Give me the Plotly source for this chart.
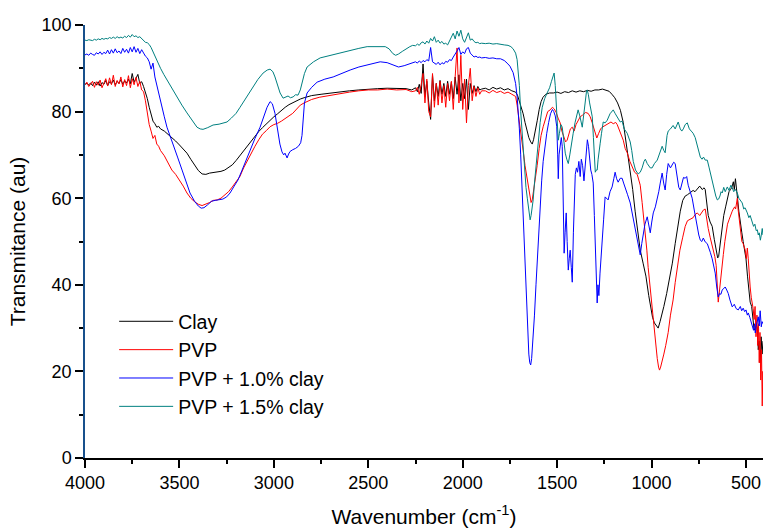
import plotly.graph_objects as go

# ---------------- data ----------------
SERIES_NAMES = ["Clay", "PVP", "PVP + 1.0% clay", "PVP + 1.5% clay"]
SERIES_COLORS = ["#000000", "#ff0000", "#0000ff", "#008080"]

# sampling grids of the noisy spectral windows (wavenumber, cm-1)
GRID_HIGH = list(range(4000, 3599, -10))   # 4000 ... 3600
GRID_CO = list(range(2250, 1899, -10))     # 2250 ... 1900

# ---- Clay ----
clay_high = [86.3, 86.5, 86.2, 86.6, 86.0, 86.8, 86.1, 86.9, 85.9, 86.7,
             86.3, 87.2, 86.0, 86.9, 86.4, 87.3, 86.2, 87.0, 86.5, 87.4,
             86.3, 87.1, 86.6, 87.5, 86.4, 88.8, 86.8, 87.6, 88.6, 86.5,
             86.9, 85.8, 84.5, 83.0, 81.0, 79.2, 77.8, 77.2, 76.4, 76.6, 76.0]
clay_mid = [(3580, 75.5), (3560, 74.8), (3540, 74.0), (3520, 73.2), (3500, 72.3), (3480, 71.3),
            (3460, 70.4), (3440, 69.0), (3420, 67.8), (3400, 66.4), (3380, 65.6), (3360, 65.5),
            (3340, 65.8), (3320, 65.9), (3300, 66.0), (3280, 66.2), (3260, 66.5), (3240, 67.0),
            (3220, 67.7), (3200, 68.7), (3180, 69.8), (3160, 71.0), (3140, 72.2), (3120, 73.3),
            (3100, 74.4), (3080, 75.4), (3060, 76.3), (3040, 77.2), (3020, 78.0), (3000, 78.8),
            (2980, 79.5), (2960, 80.3), (2940, 81.0), (2920, 81.6), (2900, 82.1), (2880, 82.5),
            (2860, 82.9), (2840, 83.2), (2800, 83.7), (2750, 84.0), (2700, 84.3), (2650, 84.6),
            (2600, 84.8), (2550, 85.0), (2500, 85.2), (2450, 85.3), (2400, 85.4), (2350, 85.3),
            (2300, 85.3), (2270, 85.0)]
clay_co = [85.5, 84.6, 86.3, 84.2, 91.0, 83.5, 87.0, 82.0, 78.2, 88.5,
           82.5, 86.5, 83.5, 87.2, 84.0, 86.5, 83.5, 87.0, 84.0, 86.8,
           83.0, 88.0, 84.0, 88.5, 82.5, 86.5, 83.0, 87.5, 80.5, 86.5,
           84.2, 86.0, 84.6, 85.8, 85.0, 85.2]
clay_low = [(1880, 85.4), (1860, 85.0), (1840, 85.6), (1820, 85.2), (1800, 85.5), (1780, 85.0),
            (1760, 85.3), (1740, 84.8), (1720, 84.5), (1710, 83.8), (1700, 82.5), (1690, 81.0),
            (1680, 79.5), (1670, 77.5), (1660, 75.5), (1650, 74.0), (1640, 73.0), (1632, 72.5),
            (1625, 73.5), (1615, 75.5), (1605, 78.0), (1595, 80.5), (1585, 82.3), (1575, 83.3),
            (1560, 84.0), (1540, 84.3), (1520, 84.3), (1500, 84.5), (1480, 84.2), (1460, 84.6),
            (1440, 84.4), (1420, 84.8), (1400, 84.5), (1380, 84.8), (1360, 84.6), (1340, 84.9),
            (1320, 84.7), (1300, 85.0), (1280, 85.0), (1260, 85.2), (1240, 85.0), (1225, 84.7),
            (1210, 84.0), (1195, 83.2), (1180, 82.0), (1165, 80.3), (1150, 77.5), (1140, 74.5),
            (1125, 70.5), (1113, 66.5), (1100, 62.0), (1087, 57.0), (1075, 52.5), (1060, 48.0),
            (1045, 45.0), (1030, 42.0), (1015, 37.5), (1005, 34.5), (995, 32.5), (985, 31.2),
            (975, 30.5), (965, 30.0), (955, 31.5), (945, 33.0), (935, 35.0), (920, 38.0),
            (905, 41.5), (890, 45.0), (875, 49.5), (860, 54.0), (848, 57.0), (835, 59.5),
            (822, 60.5), (810, 60.8), (795, 61.2), (780, 61.8), (770, 61.5), (758, 62.2),
            (745, 62.8), (732, 62.0), (722, 62.4), (716, 62.0), (708, 59.0), (700, 56.0),
            (690, 54.5), (679, 53.5), (668, 50.5), (658, 47.5), (650, 46.2), (645, 46.5),
            (638, 49.0), (628, 52.0), (618, 56.0), (608, 58.0), (598, 60.0), (590, 61.5),
            (582, 62.0), (575, 62.5), (567, 63.8), (562, 62.0), (556, 64.5), (551, 63.0),
            (545, 60.0), (538, 57.0), (530, 55.0), (522, 52.0), (515, 50.0), (508, 48.5),
            (500, 46.0), (492, 42.0), (485, 39.0), (478, 36.0), (470, 35.0), (464, 33.0),
            (458, 30.0), (452, 29.5), (446, 31.0), (440, 30.0), (435, 25.0), (430, 27.0),
            (425, 22.0), (420, 28.0), (415, 24.0), (410, 27.0)]

# ---- PVP ----
pvp_high = [86.2, 86.8, 85.8, 86.5, 87.0, 85.6, 86.9, 86.1, 87.3, 85.5,
            86.8, 87.6, 85.9, 87.8, 86.2, 88.4, 85.8, 87.2, 86.4, 88.0,
            85.7, 87.4, 86.0, 88.3, 85.5, 87.6, 86.2, 87.9, 85.8, 87.0,
            85.0, 84.6, 82.5, 79.5, 77.0, 75.5, 73.8, 74.5, 72.5, 72.0, 71.0]
pvp_mid = [(3580, 69.8), (3560, 68.0), (3540, 66.5), (3520, 65.5), (3500, 64.2), (3480, 62.8),
           (3460, 61.2), (3440, 60.0), (3420, 59.2), (3400, 58.6), (3380, 58.3), (3360, 58.6),
           (3340, 59.0), (3320, 59.5), (3300, 59.6), (3280, 60.0), (3260, 60.7), (3240, 61.5),
           (3220, 62.6), (3200, 63.8), (3180, 65.0), (3160, 67.0), (3140, 68.8), (3120, 70.5),
           (3100, 72.0), (3080, 73.5), (3060, 74.8), (3040, 75.6), (3020, 76.5), (3000, 77.0),
           (2980, 77.3), (2960, 77.8), (2940, 78.3), (2920, 79.0), (2900, 79.6), (2880, 80.6),
           (2860, 81.5), (2840, 82.0), (2800, 82.8), (2760, 83.3), (2700, 83.8), (2650, 84.2),
           (2600, 84.5), (2550, 84.8), (2500, 85.0), (2450, 85.0), (2400, 85.2), (2350, 85.0),
           (2300, 85.1), (2270, 84.6)]
pvp_co = [84.8, 85.6, 84.0, 86.2, 88.8, 82.0, 87.5, 80.0, 78.8, 88.8,
          81.0, 86.5, 81.5, 87.0, 82.0, 86.0, 81.0, 86.5, 82.5, 87.0,
          80.5, 88.0, 94.7, 82.0, 93.0, 80.5, 87.5, 77.4, 86.0, 90.0,
          82.5, 85.8, 83.5, 85.5, 84.0, 84.8]
pvp_low = [(1880, 84.8), (1860, 84.3), (1840, 84.9), (1820, 84.4), (1800, 84.7), (1780, 84.2),
           (1760, 84.5), (1740, 84.0), (1720, 83.5), (1712, 81.5), (1700, 78.0), (1690, 74.5),
           (1680, 71.0), (1670, 67.5), (1660, 64.5), (1653, 62.5), (1645, 60.5), (1638, 59.0),
           (1632, 59.6), (1625, 61.5), (1615, 64.5), (1606, 67.5), (1595, 71.5), (1585, 74.5),
           (1574, 76.5), (1560, 78.8), (1550, 80.0), (1537, 80.4), (1525, 81.0), (1515, 80.6),
           (1505, 79.8), (1495, 78.5), (1484, 77.4), (1475, 75.5), (1465, 74.0), (1455, 73.0),
           (1447, 73.4), (1440, 74.5), (1430, 76.0), (1420, 76.4), (1410, 75.5), (1400, 77.0),
           (1390, 78.0), (1378, 78.8), (1365, 79.2), (1350, 79.8), (1336, 79.6), (1325, 78.8),
           (1315, 77.5), (1305, 76.0), (1298, 75.0), (1290, 73.9), (1280, 75.0), (1270, 76.0),
           (1261, 76.4), (1246, 76.8), (1230, 77.4), (1215, 77.6), (1203, 77.2), (1190, 77.5),
           (1182, 77.0), (1170, 75.5), (1160, 74.5), (1150, 73.4), (1140, 71.5), (1129, 70.5),
           (1115, 68.5), (1100, 67.0), (1090, 66.0), (1076, 65.5), (1060, 63.0), (1050, 59.0),
           (1040, 55.0), (1033, 52.0), (1025, 48.0), (1018, 44.0), (1010, 40.5), (1000, 35.0),
           (992, 31.0), (985, 28.0), (978, 25.5), (970, 23.0), (963, 21.0), (958, 20.3),
           (952, 21.0), (945, 22.0), (935, 24.0), (925, 26.0), (912, 29.0), (900, 33.0),
           (886, 36.5), (875, 40.5), (864, 44.0), (850, 48.0), (835, 51.0), (822, 53.5),
           (810, 54.8), (795, 55.2), (780, 55.5), (770, 56.2), (758, 56.6), (745, 56.0),
           (735, 56.8), (725, 57.3), (716, 57.5), (708, 55.0), (700, 53.0), (690, 51.0),
           (682, 49.5), (674, 48.5), (665, 46.5), (658, 44.5), (652, 41.0), (647, 36.0),
           (642, 38.0), (635, 41.5), (628, 44.0), (620, 47.0), (612, 50.0), (605, 52.0),
           (598, 54.0), (590, 55.0), (580, 56.5), (573, 57.0), (567, 57.5), (560, 58.0),
           (555, 57.5), (550, 59.0), (546, 60.0), (542, 57.5), (536, 55.0), (530, 52.7),
           (522, 50.0), (515, 49.5), (508, 48.5), (504, 48.0), (498, 46.0), (493, 48.5),
           (488, 46.0), (483, 42.0), (478, 39.5), (472, 37.0), (467, 36.0), (462, 34.5),
           (457, 32.0), (452, 35.0), (447, 28.0), (442, 33.0), (438, 26.0), (434, 31.0),
           (430, 22.0), (426, 29.0), (422, 18.0), (418, 25.0), (414, 12.0), (411, 20.0),
           (408, 16.0)]

# ---- PVP + 1.0% clay ----
pvp10_high = [93.1, 93.3, 93.0, 93.5, 93.2, 93.0, 93.6, 93.3, 93.8, 93.2,
              93.7, 93.4, 94.2, 93.3, 94.3, 93.5, 94.5, 93.6, 94.0, 93.4,
              94.6, 93.7, 94.4, 93.5, 94.8, 93.8, 95.0, 93.7, 94.6, 93.4,
              94.3, 93.5, 92.8, 92.4, 91.5, 89.8, 91.2, 88.0, 86.0, 84.2, 82.0]
pvp10_mid = [(3580, 78.8), (3566, 76.4), (3550, 74.5), (3534, 72.7), (3510, 69.5), (3486, 66.5),
             (3465, 63.8), (3444, 61.2), (3420, 59.3), (3400, 58.2), (3385, 57.7), (3370, 57.8),
             (3350, 58.5), (3330, 59.3), (3310, 59.5), (3290, 59.6), (3270, 59.8), (3250, 60.3),
             (3232, 61.2), (3210, 62.8), (3190, 64.2), (3170, 66.3), (3150, 68.5), (3126, 71.1),
             (3100, 73.8), (3073, 76.4), (3055, 78.7), (3036, 81.0), (3020, 82.3), (3008, 81.8),
             (2994, 79.6), (2985, 77.3), (2978, 75.0), (2968, 72.5), (2957, 70.7), (2948, 70.0),
             (2941, 70.4), (2935, 69.8), (2930, 69.3), (2922, 70.2), (2914, 70.8), (2900, 71.2),
             (2885, 71.5), (2870, 72.0), (2858, 72.8), (2851, 74.5), (2845, 79.0), (2838, 82.0),
             (2824, 84.3), (2800, 85.6), (2771, 86.8), (2730, 87.5), (2686, 88.0), (2640, 88.9),
             (2596, 89.6), (2550, 90.3), (2506, 90.8), (2470, 91.2), (2437, 91.5), (2400, 91.3),
             (2370, 90.8), (2340, 90.3), (2310, 90.6), (2280, 91.0)]
pvp10_co = [91.5, 91.2, 91.7, 91.3, 91.8, 91.5, 92.0, 91.7, 94.8, 91.5,
            91.2, 90.9, 91.4, 90.8, 91.3, 91.0, 91.6, 91.4, 92.0, 91.8,
            92.6, 93.2, 94.0, 94.8, 93.2, 93.8, 93.4, 94.5, 94.8, 93.5,
            93.0, 92.6, 92.8, 92.5, 92.6, 92.4]
pvp10_low = [(1880, 92.5), (1860, 92.3), (1840, 92.4), (1820, 92.2), (1800, 92.2), (1780, 91.8),
             (1765, 91.2), (1750, 90.5), (1733, 89.0), (1720, 86.5), (1712, 83.5), (1706, 80.0),
             (1700, 76.0), (1693, 70.0), (1685, 61.0), (1678, 52.0), (1670, 43.0), (1663, 35.0),
             (1656, 28.5), (1650, 24.0), (1645, 22.0), (1640, 21.5), (1635, 23.0), (1628, 27.0),
             (1620, 33.0), (1612, 40.0), (1606, 45.0), (1598, 52.0), (1590, 58.5), (1582, 64.0),
             (1574, 68.5), (1565, 72.0), (1555, 75.0), (1545, 77.5), (1535, 79.5), (1525, 80.5),
             (1518, 80.0), (1510, 79.0), (1502, 76.5), (1497, 70.0), (1494, 64.5), (1490, 70.0),
             (1484, 73.0), (1478, 74.0), (1473, 72.0), (1468, 58.0), (1463, 47.3), (1458, 52.0),
             (1452, 56.6), (1447, 50.0), (1441, 43.4), (1436, 46.0), (1431, 48.0), (1425, 44.0),
             (1420, 40.6), (1414, 52.0), (1409, 60.0), (1404, 65.5), (1398, 67.0), (1392, 66.0),
             (1385, 68.5), (1378, 65.0), (1372, 69.0), (1365, 67.5), (1358, 64.0), (1352, 67.0),
             (1345, 71.0), (1340, 73.5), (1334, 72.0), (1328, 69.0), (1322, 66.5), (1316, 65.5),
             (1309, 63.5), (1303, 56.0), (1297, 46.0), (1292, 38.5), (1288, 35.8), (1284, 40.0),
             (1279, 37.5), (1273, 42.7), (1267, 47.5), (1262, 50.3), (1254, 55.0), (1246, 60.3),
             (1238, 59.8), (1230, 59.6), (1220, 61.5), (1209, 62.6), (1200, 64.5), (1193, 66.0),
             (1185, 64.5), (1177, 63.7), (1166, 64.6), (1156, 64.6), (1148, 63.5), (1140, 62.6),
             (1127, 60.8), (1113, 58.9), (1105, 57.0), (1097, 55.0), (1087, 52.5), (1076, 50.3),
             (1068, 48.5), (1060, 46.9), (1052, 49.5), (1044, 52.0), (1035, 54.0), (1023, 55.7),
             (1015, 54.0), (1007, 52.0), (999, 54.5), (991, 56.6), (980, 58.0), (970, 59.6),
             (962, 61.5), (954, 63.5), (944, 65.8), (936, 63.5), (928, 61.9), (920, 65.5),
             (912, 68.0), (900, 67.0), (891, 67.7), (883, 68.3), (875, 68.0), (865, 65.0),
             (856, 62.5), (848, 61.9), (840, 63.0), (831, 64.8), (822, 64.6), (814, 65.0),
             (806, 63.0), (795, 61.5), (785, 60.0), (775, 57.5), (765, 55.0), (758, 53.4),
             (750, 51.5), (742, 50.3), (734, 50.0), (726, 50.8), (716, 49.9), (705, 49.5),
             (695, 48.5), (689, 47.5), (679, 46.0), (670, 44.5), (663, 42.7), (655, 39.5),
             (647, 37.2), (640, 38.0), (633, 37.8), (626, 38.8), (618, 39.2), (610, 39.5),
             (602, 38.8), (594, 38.0), (585, 36.5), (573, 34.9), (562, 35.5), (552, 34.5),
             (541, 34.2), (530, 35.0), (523, 34.0), (515, 34.6), (507, 33.8), (500, 34.2),
             (493, 33.0), (488, 33.5), (480, 32.5), (473, 31.5), (467, 30.3), (460, 29.5),
             (455, 31.0), (451, 28.9), (446, 30.5), (441, 32.0), (435, 32.6), (430, 30.5),
             (425, 34.0), (419, 30.3), (415, 31.5), (410, 31.0)]

# ---- PVP + 1.5% clay ----
pvp15_high = [96.5, 96.4, 96.6, 96.5, 96.4, 96.7, 96.5, 96.8, 96.6, 96.9,
              96.7, 96.9, 96.8, 97.1, 96.9, 97.2, 96.9, 97.3, 97.0, 97.2,
              97.0, 97.4, 97.1, 97.6, 97.2, 97.8, 97.3, 97.5, 97.1, 97.3,
              96.8, 96.4, 96.0, 95.9, 95.5, 94.8, 93.8, 92.8, 91.8, 91.0, 90.0]
pvp15_mid = [(3583, 88.6), (3566, 87.3), (3540, 85.4), (3513, 83.4), (3487, 81.5), (3460, 79.7),
             (3433, 78.0), (3407, 76.4), (3390, 76.0), (3375, 75.9), (3350, 76.3), (3322, 76.9),
             (3290, 77.1), (3270, 77.3), (3248, 77.6), (3225, 78.5), (3200, 79.6), (3179, 81.0),
             (3155, 82.6), (3130, 84.2), (3110, 85.7), (3085, 87.4), (3057, 88.9), (3035, 89.6),
             (3020, 89.8), (3005, 89.2), (2994, 88.0), (2980, 86.2), (2967, 84.3), (2951, 83.1),
             (2938, 83.3), (2925, 83.6), (2912, 83.2), (2898, 83.4), (2885, 83.9), (2872, 83.8),
             (2860, 85.0), (2851, 86.6), (2838, 88.8), (2824, 90.3), (2790, 91.5), (2755, 92.4),
             (2720, 92.8), (2686, 93.1), (2640, 93.6), (2596, 94.2), (2550, 94.6), (2506, 95.0),
             (2470, 95.0), (2437, 95.0), (2410, 95.0), (2390, 94.5), (2370, 93.4), (2355, 93.0),
             (2340, 93.3), (2320, 93.9), (2300, 94.5), (2280, 95.0), (2265, 95.3)]
pvp15_co = [95.2, 95.6, 95.3, 95.9, 96.1, 95.6, 96.3, 95.8, 96.9, 96.3,
            97.3, 96.0, 96.5, 95.8, 96.2, 95.6, 95.8, 95.4, 96.5, 97.2,
            98.1, 96.8, 98.6, 97.4, 98.8, 96.8, 96.0, 97.0, 98.2, 96.5,
            96.8, 96.2, 95.9, 96.0, 95.7, 95.8]
pvp15_low = [(1880, 95.7), (1860, 95.8), (1840, 95.6), (1820, 95.7), (1800, 95.5), (1780, 95.4),
             (1760, 95.3), (1745, 95.0), (1733, 94.5), (1720, 93.5), (1712, 92.0), (1706, 89.5),
             (1700, 86.0), (1693, 80.0), (1685, 74.5), (1680, 71.0), (1672, 66.0), (1665, 62.5),
             (1658, 60.0), (1650, 57.0), (1643, 55.0), (1638, 56.0), (1632, 57.5), (1627, 59.6),
             (1620, 63.5), (1612, 67.5), (1606, 71.0), (1598, 74.5), (1590, 77.5), (1579, 81.0),
             (1566, 83.0), (1553, 84.3), (1540, 85.5), (1530, 87.0), (1522, 88.3), (1516, 88.9),
             (1510, 86.0), (1505, 82.0), (1500, 79.0), (1494, 73.4), (1488, 75.0), (1480, 77.0),
             (1473, 76.4), (1465, 72.5), (1457, 70.4), (1449, 69.0), (1441, 68.0), (1433, 70.0),
             (1425, 72.5), (1415, 75.0), (1405, 77.5), (1396, 79.5), (1389, 80.4), (1380, 79.0),
             (1373, 77.5), (1367, 76.4), (1360, 79.0), (1352, 82.5), (1345, 84.5), (1341, 85.0),
             (1335, 84.0), (1328, 82.0), (1320, 80.5), (1314, 78.8), (1308, 74.0), (1303, 69.0),
             (1298, 66.0), (1293, 66.5), (1288, 66.5), (1283, 69.0), (1278, 71.5), (1272, 72.7),
             (1265, 75.0), (1256, 77.6), (1246, 77.4), (1235, 78.0), (1220, 79.5), (1210, 80.2),
             (1203, 80.4), (1192, 79.5), (1180, 78.5), (1166, 77.6), (1156, 77.8), (1145, 76.0),
             (1129, 75.0), (1113, 73.0), (1105, 71.0), (1097, 68.5), (1085, 66.5), (1071, 65.6),
             (1060, 66.0), (1050, 67.0), (1040, 68.5), (1033, 69.0), (1023, 68.0), (1015, 67.5),
             (1007, 67.0), (997, 67.0), (985, 68.0), (970, 68.8), (960, 70.0), (954, 71.0),
             (944, 72.0), (935, 71.0), (928, 70.5), (918, 74.5), (912, 75.5), (900, 76.0),
             (886, 76.8), (875, 76.0), (864, 77.0), (859, 77.6), (848, 76.0), (840, 75.5),
             (832, 76.0), (822, 77.0), (811, 77.4), (800, 76.0), (790, 75.5), (780, 75.0),
             (769, 74.0), (760, 72.5), (750, 71.0), (742, 69.5), (733, 69.0), (725, 69.5),
             (716, 68.8), (705, 68.8), (695, 67.0), (685, 65.0), (679, 64.2), (670, 62.0),
             (660, 60.5), (652, 59.6), (645, 59.8), (638, 60.5), (632, 61.5), (626, 61.2),
             (618, 62.5), (610, 61.5), (599, 62.6), (590, 61.8), (580, 63.0), (573, 62.4),
             (565, 61.5), (556, 62.0), (546, 61.2), (538, 60.0), (530, 59.5), (520, 58.9),
             (512, 57.5), (505, 57.8), (493, 56.6), (485, 55.5), (478, 56.0), (467, 54.3),
             (460, 53.5), (453, 54.0), (446, 52.5), (440, 52.7), (435, 51.5), (430, 52.0),
             (424, 50.3), (419, 51.5), (414, 53.0), (410, 51.5)]

X_TICKS = [4000, 3500, 3000, 2500, 2000, 1500, 1000, 500]
Y_TICKS = [0, 20, 40, 60, 80, 100]


def assemble(high, mid, co, low):
    assert len(high) == len(GRID_HIGH)
    assert len(co) == len(GRID_CO)
    xs = list(GRID_HIGH) + [p[0] for p in mid] + list(GRID_CO) + [p[0] for p in low]
    ys = list(high) + [p[1] for p in mid] + list(co) + [p[1] for p in low]
    return xs, ys


series = [
    assemble(clay_high, clay_mid, clay_co, clay_low),
    assemble(pvp_high, pvp_mid, pvp_co, pvp_low),
    assemble(pvp10_high, pvp10_mid, pvp10_co, pvp10_low),
    assemble(pvp15_high, pvp15_mid, pvp15_co, pvp15_low),
]

FONT = "Liberation Sans, Arial, sans-serif"

fig = go.Figure()
for (xs, ys), name, color in zip(series, SERIES_NAMES, SERIES_COLORS):
    fig.add_trace(go.Scatter(x=xs, y=ys, mode="lines", name=name,
                             line=dict(color=color, width=1)))

fig.update_layout(
    width=763, height=530,
    margin=dict(l=85, r=0, t=25, b=72),
    paper_bgcolor="white", plot_bgcolor="white",
    font=dict(family=FONT, color="black", size=18),
    showlegend=True,
    legend=dict(x=0.043, y=0.36, xanchor="left", yanchor="top",
                bgcolor="rgba(0,0,0,0)", borderwidth=0,
                font=dict(family=FONT, size=19.5, color="black"),
                itemwidth=54, tracegroupgap=0),
)
fig.update_xaxes(
    range=[4000, 410], showgrid=False, zeroline=False, automargin=False,
    showline=True, linecolor="black", linewidth=1.5,
    ticks="outside", ticklen=8, tickwidth=1.5, tickcolor="black",
    tickvals=X_TICKS, tickfont=dict(size=18, family=FONT, color="black"),
    minor=dict(dtick=250, ticks="outside", ticklen=4, tickwidth=1.5, tickcolor="black", showgrid=False),
    title=dict(text="Wavenumber (cm<sup>-1</sup>)", font=dict(size=21, family=FONT, color="black"), standoff=17),
)
fig.update_yaxes(
    range=[0, 100], showgrid=False, zeroline=False, automargin=False,
    showline=True, linecolor="#18508c", linewidth=1.5,
    ticks="outside", ticklen=8, tickwidth=1.5, tickcolor="black",
    tickvals=Y_TICKS, tickfont=dict(size=18, family=FONT, color="black"),
    minor=dict(dtick=10, ticks="outside", ticklen=4, tickwidth=1.5, tickcolor="black", showgrid=False),
    title=dict(text="Transmitance (au)", font=dict(size=21, family=FONT, color="black"), standoff=10),
)

# remove the browser's default 8 px page margin so the 763x530 figure fills the window exactly
fig.write_html("out.html",
               config={"displayModeBar": False},
               post_script="document.body.style.margin='0';document.body.style.overflow='hidden';")
